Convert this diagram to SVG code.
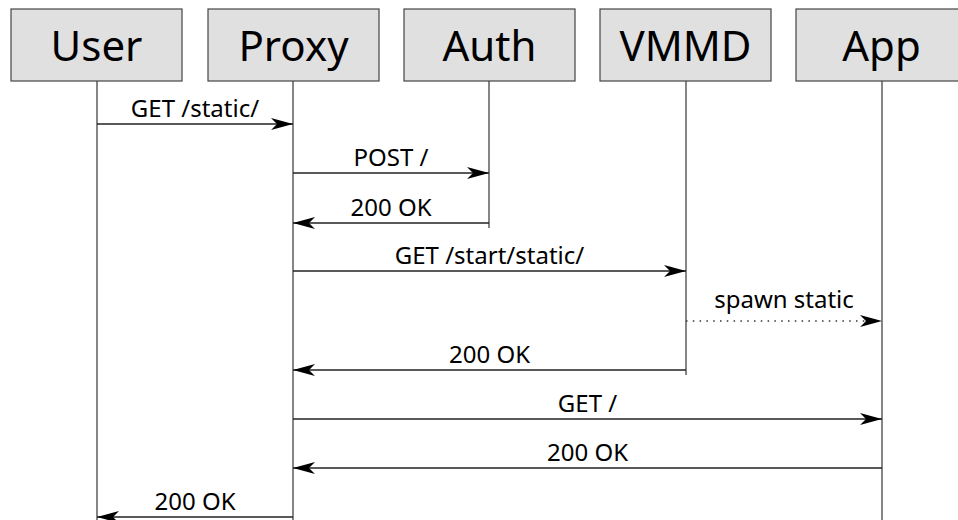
<svg xmlns="http://www.w3.org/2000/svg" width="958" height="520" viewBox="0 0 958 520">
  <style>
    .box { fill: #e0e0e0; stroke: #444444; stroke-width: 1.2; }
    .actor { font-family: "Noto Sans", "Open Sans", sans-serif; font-size: 42px; fill: #000; text-anchor: middle; }
    .life { stroke: #444444; stroke-width: 1.3; fill: none; }
    .msg { stroke: #222222; stroke-width: 1.3; fill: none; }
    .async { stroke: #333333; stroke-width: 1.4; stroke-dasharray: 1.5 5.3; fill: none; }
    .label { font-family: "Noto Sans", "Open Sans", sans-serif; font-size: 24px; fill: #000; text-anchor: middle; }
  </style>
  <defs>
    <marker id="head" viewBox="0 0 22 12" refX="22" refY="6" markerWidth="22" markerHeight="12" markerUnits="userSpaceOnUse" orient="auto">
      <path d="M22 6 L0 0 L6 6 L0 12 Z" fill="#000"/>
    </marker>
  </defs>
  <rect width="958" height="520" fill="#ffffff"/>

  <!-- participants with their lifelines -->
  <g id="user">
    <rect class="box" x="11" y="9" width="171" height="72"/>
    <text class="actor" x="96.5" y="61">User</text>
    <line class="life" x1="97" y1="81" x2="97" y2="520"/>
  </g>
  <g id="proxy">
    <rect class="box" x="208" y="9" width="171" height="72"/>
    <text class="actor" x="293.5" y="61">Proxy</text>
    <line class="life" x1="293" y1="81" x2="293" y2="520"/>
  </g>
  <g id="auth">
    <rect class="box" x="404" y="9" width="171" height="72"/>
    <text class="actor" x="489.5" y="61">Auth</text>
    <line class="life" x1="489" y1="81" x2="489" y2="228"/>
  </g>
  <g id="vmmd">
    <rect class="box" x="600" y="9" width="171" height="72"/>
    <text class="actor" x="685.5" y="61">VMMD</text>
    <line class="life" x1="686" y1="81" x2="686" y2="375"/>
  </g>
  <g id="app">
    <rect class="box" x="796" y="9" width="171" height="72"/>
    <text class="actor" x="881.5" y="61">App</text>
    <line class="life" x1="882" y1="81" x2="882" y2="520"/>
  </g>

  <!-- messages -->
  <g id="messages">
    <line class="msg" x1="97" y1="124" x2="293" y2="124" marker-end="url(#head)"/>
    <text class="label" x="195" y="117">GET /static/</text>

    <line class="msg" x1="293" y1="173" x2="489" y2="173" marker-end="url(#head)"/>
    <text class="label" x="391" y="166">POST /</text>

    <line class="msg" x1="489" y1="223" x2="293" y2="223" marker-end="url(#head)"/>
    <text class="label" x="391" y="216">200 OK</text>

    <line class="msg" x1="293" y1="271" x2="686" y2="271" marker-end="url(#head)"/>
    <text class="label" x="489.5" y="264">GET /start/static/</text>

    <line class="async" x1="686" y1="321" x2="882" y2="321" marker-end="url(#head)"/>
    <text class="label" x="784" y="308">spawn static</text>

    <line class="msg" x1="686" y1="370" x2="293" y2="370" marker-end="url(#head)"/>
    <text class="label" x="489.5" y="363">200 OK</text>

    <line class="msg" x1="293" y1="419" x2="882" y2="419" marker-end="url(#head)"/>
    <text class="label" x="587.5" y="412">GET /</text>

    <line class="msg" x1="882" y1="468" x2="293" y2="468" marker-end="url(#head)"/>
    <text class="label" x="587.5" y="461">200 OK</text>

    <line class="msg" x1="293" y1="517" x2="97" y2="517" marker-end="url(#head)"/>
    <text class="label" x="195" y="510">200 OK</text>
  </g>
</svg>
